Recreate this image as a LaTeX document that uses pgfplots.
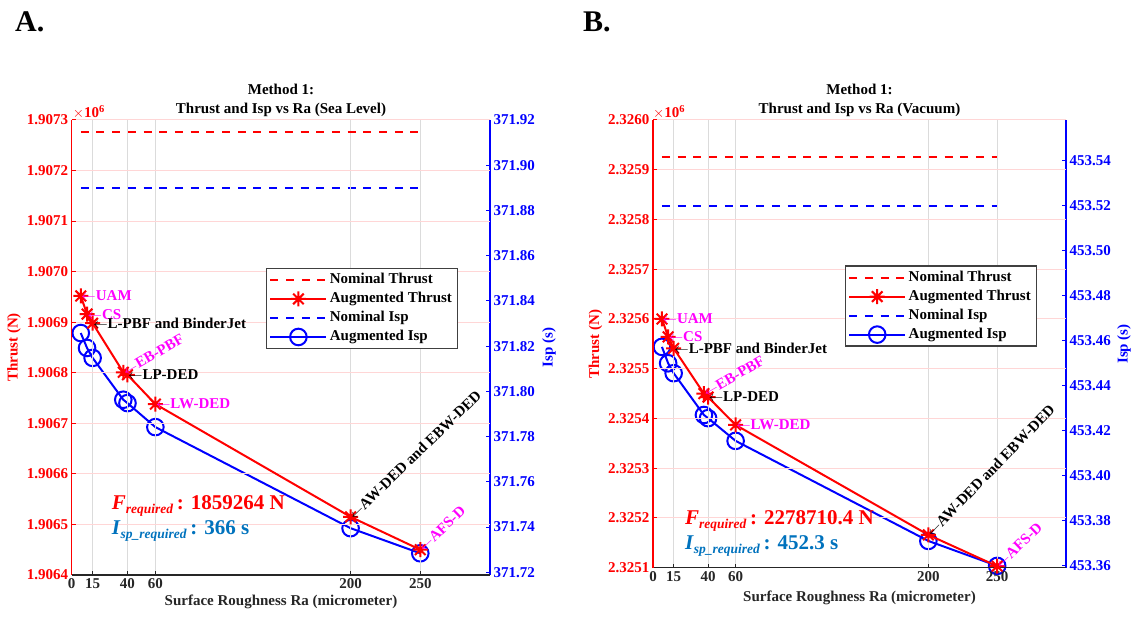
\documentclass[border=0pt]{standalone}
\usepackage{fontspec}
\setmainfont{Liberation Serif}
\usepackage{pgfplots}
\pgfplotsset{compat=1.18}
\definecolor{isptxt}{rgb}{0,0.447,0.741}
\definecolor{axgray}{rgb}{0.15,0.15,0.15}
\definecolor{mag}{rgb}{1,0,1}

\pgfdeclareplotmark{mstar}{%
  \pgfpathmoveto{\pgfqpoint{-\pgfplotmarksize}{0pt}}\pgfpathlineto{\pgfqpoint{\pgfplotmarksize}{0pt}}%
  \pgfpathmoveto{\pgfqpoint{0pt}{-\pgfplotmarksize}}\pgfpathlineto{\pgfqpoint{0pt}{\pgfplotmarksize}}%
  \pgfpathmoveto{\pgfqpoint{-.707\pgfplotmarksize}{-.707\pgfplotmarksize}}\pgfpathlineto{\pgfqpoint{.707\pgfplotmarksize}{.707\pgfplotmarksize}}%
  \pgfpathmoveto{\pgfqpoint{-.707\pgfplotmarksize}{.707\pgfplotmarksize}}\pgfpathlineto{\pgfqpoint{.707\pgfplotmarksize}{-.707\pgfplotmarksize}}%
  \pgfusepathqstroke}

\newcommand{\fs}{\bfseries\fontsize{15}{15}\selectfont}
\tikzset{ann/.style={font=\fs, anchor=west, inner sep=0.5pt}}

\pgfplotsset{
 panel/.style={
   scale only axis, xmin=0, xmax=300,
   clip mode=individual,
   tick align=inside, major tick length=4pt,
   scaled y ticks=false, scaled x ticks=false,
   /pgf/number format/assume math mode=true,
   tick label style={font=\fs},
 },
 leftax/.style={panel, axis y line*=left, axis x line*=bottom,
   xtick={0,15,40,60,200,250},
   xmajorgrids, ymajorgrids,
   x grid style={draw=black!14, line width=1pt},
   y grid style={draw=red!16, line width=1pt},
   x axis line style={-, draw=axgray, line width=1.2pt},
   y axis line style={-, draw=red, line width=1.5pt},
   xticklabel style={text=axgray}, yticklabel style={text=red},
   xtick style={draw=axgray, line width=1pt}, ytick style={draw=red, line width=1pt},
   legend style={draw=black!75, line width=1.2pt, fill=white, font=\fs,
     nodes={inner sep=2.5pt, text height=10.5pt, text depth=3.5pt},
     column 2/.append style={text width=126pt},
     at={(0.464,0.675)}, anchor=north west},
   legend cell align=left,
   legend image code/.code={\draw[mark repeat=2,mark phase=2] plot coordinates {(0pt,0pt)(28pt,0pt)(56pt,0pt)};},
 },
 rightax/.style={panel, axis y line*=right, axis x line=none,
   y axis line style={-, draw=blue, line width=1.5pt},
   yticklabel style={text=blue}, ytick style={draw=blue, line width=1pt},
 },
}

\begin{document}
\begin{tikzpicture}
\path[use as bounding box] (0pt,0pt) rectangle (1133pt,617pt);

% ---------------- Panel A: Isp (right axis) ----------------
\begin{axis}[rightax, at={(71.7pt,42pt)}, anchor=south west, width=418.3pt, height=455pt,
  ymin=371.7188, ymax=371.92,
  ytick={371.72,371.74,371.76,371.78,371.80,371.82,371.84,371.86,371.88,371.90,371.92},
  yticklabels={371.72,371.74,371.76,371.78,371.80,371.82,371.84,371.86,371.88,371.90,371.92}]
\addplot[color=blue, line width=2pt, dash pattern=on 8pt off 7.7pt] coordinates {(6.5,371.890) (250,371.890)};
\addplot[color=blue, line width=2pt, mark=o, mark size=8.3pt, mark options={solid}] coordinates {(6.5,371.8258) (11,371.8192) (15,371.8148) (37,371.7963) (40,371.7948) (60,371.7842) (200,371.7395) (250,371.7284)};
\end{axis}
% ---------------- Panel A: Thrust (left axis) ----------------
\begin{axis}[leftax, at={(71.7pt,42pt)}, anchor=south west, width=418.3pt, height=455pt,
  ymin=1906400, ymax=1907300,
  ytick={1906400,1906500,1906600,1906700,1906800,1906900,1907000,1907100,1907200,1907300},
  yticklabels={1.9064,1.9065,1.9066,1.9067,1.9068,1.9069,1.9070,1.9071,1.9072,1.9073}]
\addplot[color=red, line width=2pt, dash pattern=on 8pt off 7.7pt] coordinates {(6.5,1907277) (250,1907277)};
\addlegendentry{Nominal Thrust}
\addplot[color=red, line width=2pt, mark=mstar, mark size=7.5pt, mark options={solid}] coordinates {(6.5,1906952) (11,1906916) (15,1906898) (37,1906801) (40,1906796) (60,1906738) (200,1906515) (250,1906450)};
\addlegendentry{Augmented Thrust}
\addlegendimage{color=blue, line width=2pt, dash pattern=on 8pt off 7.7pt}
\addlegendentry{Nominal Isp}
\addlegendimage{color=blue, line width=2pt, mark=o, mark size=8.3pt, mark options={solid}}
\addlegendentry{Augmented Isp}
\node[ann, text=mag] at (axis cs:6.5,1906952) {$\leftarrow$UAM};
\node[ann, text=mag] at (axis cs:11,1906916) {$\leftarrow$CS};
\node[ann, text=black] at (axis cs:15,1906898) {$\leftarrow$L-PBF and BinderJet};
\node[ann, text=mag, rotate=30] at (axis cs:37,1906801) {$\leftarrow$EB-PBF};
\node[ann, text=black] at (axis cs:40,1906796) {$\leftarrow$LP-DED};
\node[ann, text=mag] at (axis cs:60,1906738) {$\leftarrow$LW-DED};
\node[ann, text=black, rotate=44] at (axis cs:200,1906515) {$\leftarrow$AW-DED and EBW-DED};
\node[ann, text=mag, rotate=44] at (axis cs:250,1906450) {$\leftarrow$AFS-D};
\node[anchor=base west, text=red, inner sep=0pt, font=\bfseries\fontsize{21}{21}\selectfont] at (rel axis cs:0.0956,0.1429)
  {\textit{F}\raisebox{-4pt}{\fontsize{13.5}{13.5}\selectfont\textit{required}}\,: 1859264 N};
\node[anchor=base west, text=isptxt, inner sep=0pt, font=\bfseries\fontsize{21}{21}\selectfont] at (rel axis cs:0.0956,0.0879)
  {\textit{I}\raisebox{-4pt}{\fontsize{13.5}{13.5}\selectfont\textit{sp\_required}}\,: 366 s};
\end{axis}

% ---------------- Panel B: Isp (right axis) ----------------
\begin{axis}[rightax, at={(653pt,49.3pt)}, anchor=south west, width=413pt, height=447.7pt,
  ymin=453.3591, ymax=453.5582,
  ytick={453.36,453.38,453.40,453.42,453.44,453.46,453.48,453.50,453.52,453.54},
  yticklabels={453.36,453.38,453.40,453.42,453.44,453.46,453.48,453.50,453.52,453.54}]
\addplot[color=blue, line width=2pt, dash pattern=on 8pt off 7.7pt] coordinates {(6.5,453.520) (250,453.520)};
\addplot[color=blue, line width=2pt, mark=o, mark size=8.3pt, mark options={solid}] coordinates {(6.5,453.4573) (11,453.4500) (15,453.4456) (37,453.4270) (40,453.4256) (60,453.4155) (200,453.3710) (250,453.3599)};
\end{axis}
% ---------------- Panel B: Thrust (left axis) ----------------
\begin{axis}[leftax, at={(653pt,49.3pt)}, anchor=south west, width=413pt, height=447.7pt,
  ymin=2325100, ymax=2326000,
  ytick={2325100,2325200,2325300,2325400,2325500,2325600,2325700,2325800,2325900,2326000},
  yticklabels={2.3251,2.3252,2.3253,2.3254,2.3255,2.3256,2.3257,2.3258,2.3259,2.3260}]
\addplot[color=red, line width=2pt, dash pattern=on 8pt off 7.7pt] coordinates {(6.5,2325926) (250,2325926)};
\addlegendentry{Nominal Thrust}
\addplot[color=red, line width=2pt, mark=mstar, mark size=7.5pt, mark options={solid}] coordinates {(6.5,2325600) (11,2325564) (15,2325541) (37,2325450) (40,2325443) (60,2325387) (200,2325166) (250,2325103)};
\addlegendentry{Augmented Thrust}
\addlegendimage{color=blue, line width=2pt, dash pattern=on 8pt off 7.7pt}
\addlegendentry{Nominal Isp}
\addlegendimage{color=blue, line width=2pt, mark=o, mark size=8.3pt, mark options={solid}}
\addlegendentry{Augmented Isp}
\node[ann, text=mag] at (axis cs:6.5,2325600) {$\leftarrow$UAM};
\node[ann, text=mag] at (axis cs:11,2325564) {$\leftarrow$CS};
\node[ann, text=black] at (axis cs:15,2325541) {$\leftarrow$L-PBF and BinderJet};
\node[ann, text=mag, rotate=30] at (axis cs:37,2325450) {$\leftarrow$EB-PBF};
\node[ann, text=black] at (axis cs:40,2325443) {$\leftarrow$LP-DED};
\node[ann, text=mag] at (axis cs:60,2325387) {$\leftarrow$LW-DED};
\node[ann, text=black, rotate=46] at (axis cs:200,2325166) {$\leftarrow$AW-DED and EBW-DED};
\node[ann, text=mag, rotate=44] at (axis cs:250,2325103) {$\leftarrow$AFS-D};
\node[anchor=base west, text=red, inner sep=0pt, font=\bfseries\fontsize{21}{21}\selectfont] at (rel axis cs:0.0775,0.0954)
  {\textit{F}\raisebox{-4pt}{\fontsize{13.5}{13.5}\selectfont\textit{required}}\,: 2278710.4 N};
\node[anchor=base west, text=isptxt, inner sep=0pt, font=\bfseries\fontsize{21}{21}\selectfont] at (rel axis cs:0.0775,0.041)
  {\textit{I}\raisebox{-4pt}{\fontsize{13.5}{13.5}\selectfont\textit{sp\_required}}\,: 452.3 s};
\end{axis}

% ---------------- Labels ----------------
\node[anchor=base west, inner sep=0pt, font=\bfseries\fontsize{30}{30}\selectfont] at (15pt,585pt) {A.};
\node[anchor=base west, inner sep=0pt, font=\bfseries\fontsize{30}{30}\selectfont] at (583pt,585pt) {B.};

\node[font=\fs] at (281pt,528pt) {Method 1:};
\node[font=\fs] at (281pt,507pt) {Thrust and Isp vs Ra (Sea Level)};
\node[font=\fs] at (859.5pt,528pt) {Method 1:};
\node[font=\fs] at (859.5pt,507pt) {Thrust and Isp vs Ra (Vacuum)};

\node[font=\fs, text=axgray] at (281pt,15pt) {Surface Roughness Ra (micrometer)};
\node[font=\fs, text=axgray] at (859.5pt,19pt) {Surface Roughness Ra (micrometer)};

\node[font=\fs, text=red, rotate=90] at (14pt,269.5pt) {Thrust (N)};
\node[font=\fs, text=blue, rotate=90] at (549pt,269.5pt) {Isp (s)};
\node[font=\fs, text=red, rotate=90] at (595.5pt,273pt) {Thrust (N)};
\node[font=\fs, text=blue, rotate=90] at (1124pt,273pt) {Isp (s)};

\node[anchor=west, inner sep=0pt, text=red, font=\fs] at (72.7pt,505pt) {$\times$10\textsuperscript{6}};
\node[anchor=west, inner sep=0pt, text=red, font=\fs] at (653pt,505pt) {$\times$10\textsuperscript{6}};
\end{tikzpicture}
\end{document}
